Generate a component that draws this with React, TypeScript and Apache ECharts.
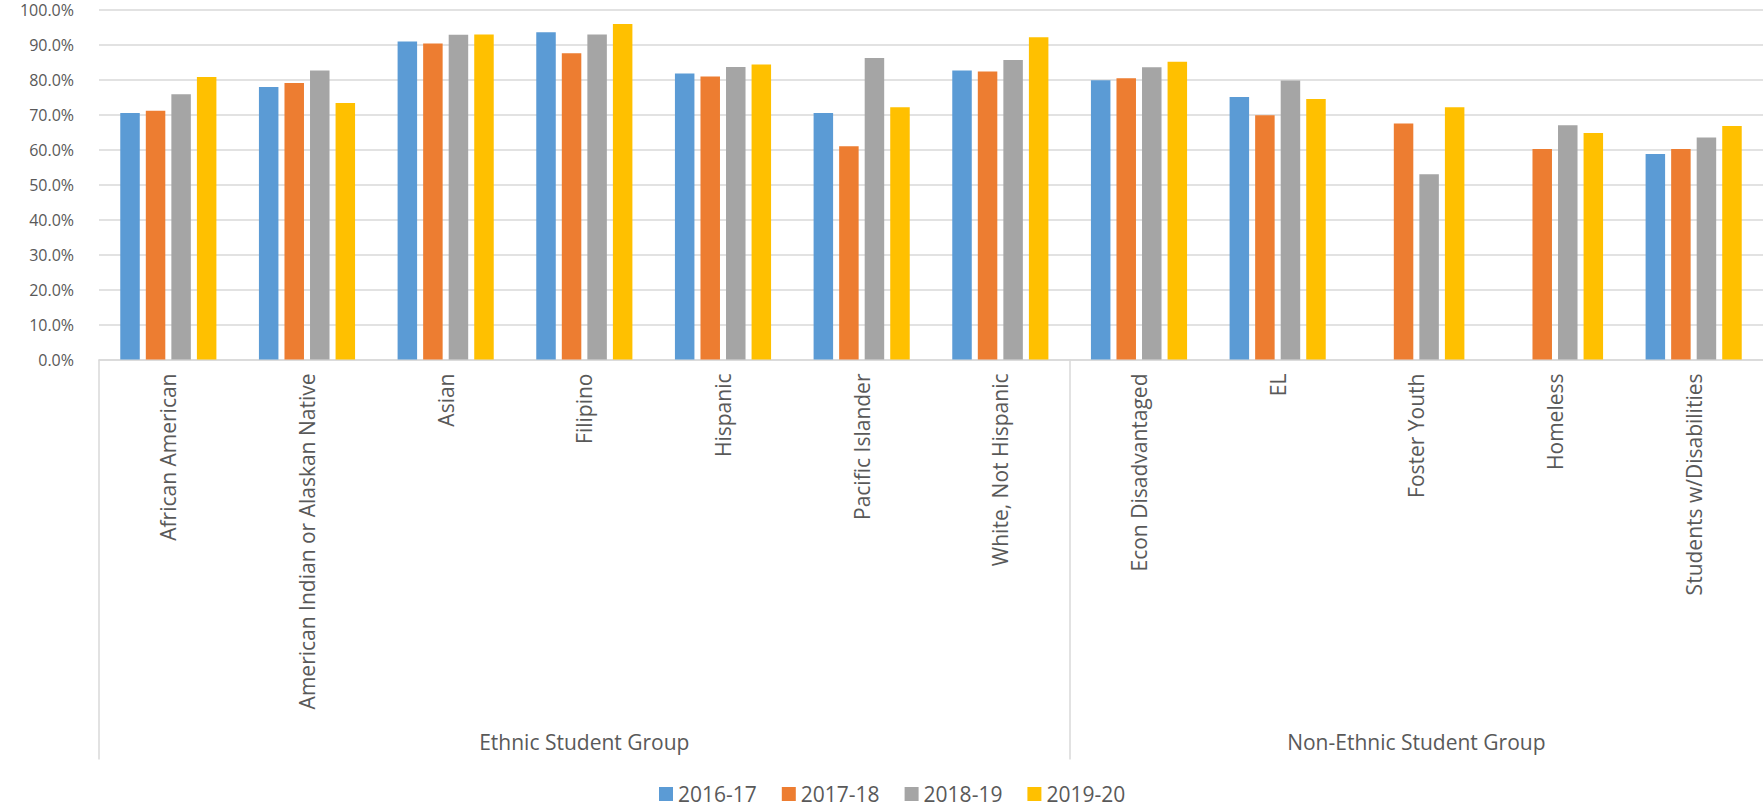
import React, { useEffect, useRef } from "react";
import * as echarts from "echarts";

const categories = [
  "African American",
  "American Indian or Alaskan Native",
  "Asian",
  "Filipino",
  "Hispanic",
  "Pacific Islander",
  "White, Not Hispanic",
  "Econ Disadvantaged",
  "EL",
  "Foster Youth",
  "Homeless",
  "Students w/Disabilities",
];

const groupLabels = ["Ethnic Student Group", "Non-Ethnic Student Group"];
const groupSizes = [7, 5];

const seriesNames = ["2016-17", "2017-18", "2018-19", "2019-20"];

const v2016: (number | null)[] = [70.5, 78.0, 91.0, 93.6, 81.8, 70.5, 82.7, 79.9, 75.1, null, null, 58.8];
const v2017: (number | null)[] = [71.2, 79.1, 90.4, 87.6, 81.0, 61.0, 82.4, 80.5, 69.9, 67.5, 60.2, 60.2];
const v2018: (number | null)[] = [75.9, 82.7, 92.9, 93.0, 83.7, 86.3, 85.7, 83.6, 79.8, 53.0, 67.0, 63.5];
const v2019: (number | null)[] = [80.8, 73.4, 93.0, 96.0, 84.4, 72.2, 92.2, 85.2, 74.5, 72.2, 64.8, 66.8];

const colors = ["#5B9BD5", "#ED7D31", "#A5A5A5", "#FFC000"];

const TEXT = "#595959";
const LINE = "#D9D9D9";
const FONT = "'Open Sans', 'Liberation Sans', sans-serif";

export default function App() {
  const ref = useRef<HTMLDivElement>(null);

  useEffect(() => {
    if (!ref.current) return;
    const chart = echarts.init(ref.current, undefined, { renderer: "svg" });

    const total = groupSizes.reduce((a, b) => a + b, 0);
    const boundaries: number[] = [0];
    const centers: number[] = [];
    let acc = 0;
    groupSizes.forEach((s) => {
      centers.push(acc + s / 2);
      acc += s;
      if (acc < total) boundaries.push(acc);
    });

    const data = [v2016, v2017, v2018, v2019];

    chart.setOption({
      animation: false,
      textStyle: { fontFamily: FONT },
      grid: { left: 99, right: 0, top: 10, bottom: 447.5, containLabel: false },
      legend: {
        data: seriesNames,
        left: 659,
        top: 782,
        padding: 0,
        itemWidth: 14,
        itemHeight: 14,
        itemGap: 25,
        icon: "rect",
        textStyle: { color: TEXT, fontSize: 21, fontFamily: FONT, lineHeight: 24 },
      },
      xAxis: [
        {
          type: "category",
          data: categories,
          axisLine: { show: true, lineStyle: { color: LINE, width: 1.5 } },
          axisTick: { show: false },
          axisLabel: {
            interval: 0,
            rotate: 90,
            margin: 14,
            color: TEXT,
            fontSize: 21,
            fontFamily: FONT,
          },
        },
        {
          type: "value",
          min: 0,
          max: total,
          position: "bottom",
          axisLine: { show: false },
          splitLine: { show: false },
          axisTick: {
            show: true,
            customValues: boundaries,
            length: 400,
            lineStyle: { color: LINE, width: 1.5 },
          },
          axisLabel: {
            show: true,
            customValues: centers,
            margin: 372,
            color: TEXT,
            fontSize: 21,
            fontFamily: FONT,
            formatter: (v: number) => {
              const i = centers.findIndex((c) => Math.abs(c - v) < 1e-6);
              return i >= 0 ? groupLabels[i] : "";
            },
          },
        },
      ],
      yAxis: {
        type: "value",
        min: 0,
        max: 100,
        interval: 10,
        axisLine: { show: false },
        axisTick: { show: false },
        splitLine: { show: true, lineStyle: { color: LINE, width: 1.5 } },
        axisLabel: {
          margin: 25,
          color: TEXT,
          fontSize: 16,
          fontFamily: FONT,
          formatter: (v: number) => v.toFixed(1) + "%",
        },
      },
      series: seriesNames.map((name, i) => ({
        name,
        type: "bar",
        xAxisIndex: 0,
        data: data[i],
        barWidth: 19.5,
        barGap: "31%",
        itemStyle: { color: colors[i] },
      })),
    });

    return () => chart.dispose();
  }, []);

  return (
    <div
      ref={ref}
      style={{ position: "absolute", left: 0, top: 0, width: 1763, height: 807 }}
    />
  );
}
